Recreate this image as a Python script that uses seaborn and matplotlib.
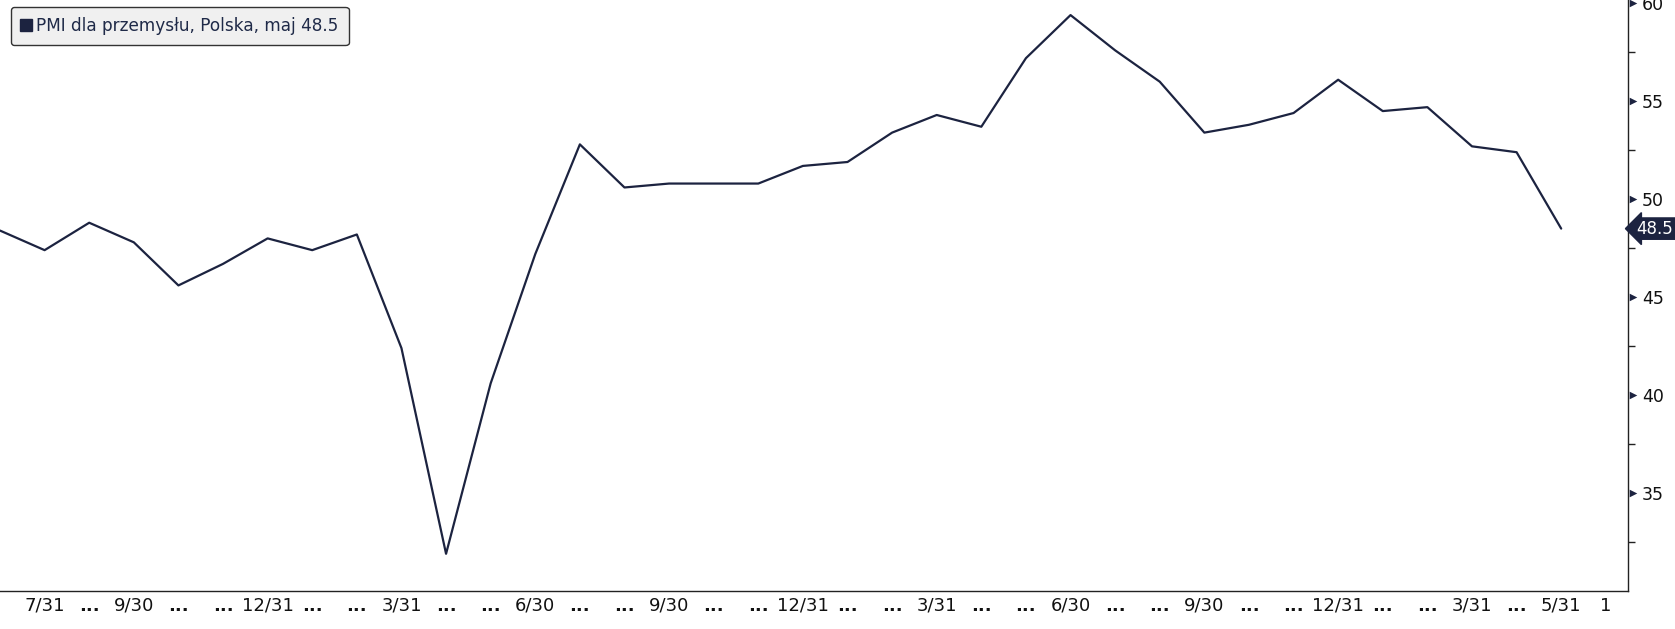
import numpy as np
import pandas as pd
import matplotlib
matplotlib.use("Agg")
import matplotlib.pyplot as plt
import matplotlib.transforms as mtransforms
from matplotlib.lines import Line2D
import seaborn as sns

# PMI Poland, monthly Jun 2019 .. May 2022
months = list(range(36))
pmi = [48.4, 47.4, 48.8, 47.8, 45.6, 46.7, 48.0, 47.4, 48.2, 42.4,
       31.9, 40.6, 47.2, 52.8, 50.6, 50.8, 50.8, 50.8, 51.7, 51.9,
       53.4, 54.3, 53.7, 57.2, 59.4, 57.6, 56.0, 53.4, 53.8, 54.4,
       56.1, 54.5, 54.7, 52.7, 52.4, 48.5]
tick_pos = list(range(1, 37))
tick_labels = ['7/31', '...', '9/30', '...', '...', '12/31', '...', '...', '3/31',
               '...', '...', '6/30', '...', '...', '9/30', '...', '...', '12/31',
               '...', '...', '3/31', '...', '...', '6/30', '...', '...', '9/30',
               '...', '...', '12/31', '...', '...', '3/31', '...', '5/31', '1']
y_major = [35, 40, 45, 50, 55, 60]
y_minor = [32.5, 37.5, 42.5, 47.5, 52.5, 57.5]
legend_label = "PMI dla przemysłu, Polska, maj 48.5"
last_label = "48.5"

navy = '#1c2340'
txt = '#1f2a48'

sns.set_style("white")
plt.rcParams['font.family'] = ['DejaVu Sans']

df = pd.DataFrame({'month': months, 'pmi': pmi})

fig = plt.figure(figsize=(16.75, 6.29), dpi=100)
ax = fig.add_axes([0.0, 0.0604, 0.972, 0.9396])
sns.lineplot(data=df, x='month', y='pmi', color=navy, linewidth=1.6, ax=ax)

ax.set_xlim(0, 36.5)
ax.set_ylim(30, 60.17)
ax.set_xlabel('')
ax.set_ylabel('')

for s in ['left', 'top']:
    ax.spines[s].set_visible(False)
for s in ['right', 'bottom']:
    ax.spines[s].set_color('#222222')
    ax.spines[s].set_linewidth(1.0)

ax.yaxis.tick_right()
ax.set_yticks(y_major)
ax.set_yticks(y_minor, minor=True)
ax.tick_params(axis='y', which='major', length=0, pad=10, labelsize=12.5, labelcolor='#111111')
ax.tick_params(axis='y', which='minor', length=5, width=1, color='#222222', direction='out')
tr = mtransforms.blended_transform_factory(ax.transAxes, ax.transData)
ax.scatter([1.0028] * len(y_major), y_major, marker='>', s=30, color=navy,
           transform=tr, clip_on=False, zorder=5, linewidths=0)

ax.set_xticks(tick_pos)
ax.set_xticklabels(tick_labels)
ax.tick_params(axis='x', length=4, width=1, color='#222222', direction='out',
               pad=0, labelsize=13, labelcolor='#111111')
for lab in ax.get_xticklabels():
    if lab.get_text() == '...':
        lab.set_fontweight('bold')

ax.text(1.0052, 48.5, last_label, transform=tr, ha='left', va='center',
        color='white', fontsize=12, clip_on=False,
        bbox=dict(boxstyle='larrow,pad=0.1', fc=navy, ec=navy))

handle = Line2D([], [], marker='s', linestyle='none', color=navy, markersize=9)
leg = ax.legend([handle], [legend_label], loc='upper left', bbox_to_anchor=(0.0025, 1.0),
                fontsize=12.2, frameon=True, fancybox=True, handlelength=0.6,
                handletextpad=0.3, borderpad=0.6, borderaxespad=0.4, labelcolor=txt)
leg.get_frame().set_facecolor('#f0f0f0')
leg.get_frame().set_edgecolor('#333333')
leg.get_frame().set_linewidth(1.0)
leg.get_frame().set_alpha(1.0)

fig.savefig('out.png', dpi=100)
